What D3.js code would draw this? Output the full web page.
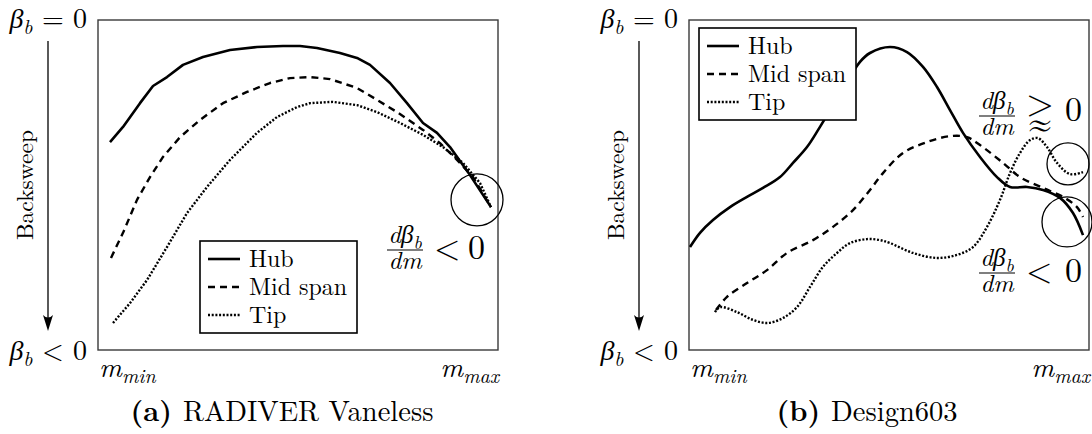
<!DOCTYPE html>
<html>
<head>
<meta charset="utf-8">
<script src="https://cdn.jsdelivr.net/npm/d3@7"></script>
<style>
  body { margin: 0; background: #fff; }
  svg { display: block; }
</style>
</head>
<body>
<svg id="chart" width="1092" height="434"></svg>
<script>
// Normalised meridional position m (0 = m_min, 100 = m_max) and blade angle
// beta_b (0 at the top, -100 = strongest backsweep at the bottom).
const hubA = [[3,-37],[6.25,-32.4],[10.5,-25.2],[13.75,-20],[17.25,-17.3],[21.25,-13.6],[26.25,-11.2],[33,-9.1],[39.75,-8.2],[46.25,-7.9],[50.5,-7.9],[54.75,-8.5],[60.5,-10],[64.75,-11.5],[68,-13.6],[73,-19.1],[77.25,-25.2],[81.25,-31.2],[84.75,-34.2],[88,-38.5],[93,-47],[98.25,-56.7]];
const midA = [[3.25,-72.1],[6.25,-64.5],[9.75,-54.5],[13,-47.6],[16.25,-41.5],[20.5,-35.5],[25.5,-30.3],[31.25,-25.2],[37.25,-21.8],[43,-19.1],[48,-17.6],[53,-17.3],[58,-17.9],[64.75,-20.6],[69.75,-24.2],[74.75,-27.9],[81.25,-33.3],[85.5,-37.3],[89.75,-42.4],[93.75,-47.6],[98.25,-56.7]];
const tipA = [[3.75,-91.8],[8,-85.8],[12.25,-78.8],[17.25,-68.8],[22.25,-58.5],[27.25,-50.6],[33,-42.4],[39.75,-34.2],[44.75,-29.4],[49.75,-26.4],[53,-25.2],[58.75,-24.8],[64.75,-25.8],[69.75,-27.9],[75.5,-31.2],[81.25,-34.8],[86.25,-38.5],[91.25,-43.3],[95.5,-49.4],[98.25,-56.7]];

const hubB = [[0.25,-68.8],[2.75,-64.5],[6,-60.6],[10.25,-56.7],[14.5,-53.6],[18.5,-50.9],[22.75,-47.6],[26,-43.3],[29.5,-38.5],[32.75,-32.4],[42.75,-12.7],[45.25,-10],[50.25,-8.2],[54.5,-9.7],[58.5,-14.2],[62,-20.3],[65.25,-27.3],[68.5,-34.2],[72.75,-41.5],[77,-47.6],[80.25,-50.6],[84.5,-50.6],[88.5,-51.5],[92.75,-53.9],[96,-58.5],[98.5,-65.2]];
const midB = [[6.75,-87.9],[9.5,-83.9],[14.5,-79.7],[19.5,-75.8],[24.5,-70.6],[31,-66.7],[36,-62.7],[41,-57.6],[45.25,-51.5],[48.5,-46.4],[53.5,-40.3],[59.5,-37],[65.25,-35.2],[69.5,-35.5],[72.75,-37.9],[78.5,-43.3],[82.75,-47.6],[88.5,-50.9],[93.5,-53.6],[97,-56.7],[98.5,-59.7]];
const tipB = [[6.5,-88.5],[7.75,-87],[12,-88.5],[16,-90.9],[19.75,-91.8],[23.5,-90.3],[27,-87],[30.25,-80.9],[33.5,-74.8],[37,-70.6],[40.25,-67.6],[44.5,-66.4],[47.75,-66.7],[50.25,-67.6],[56,-70.6],[62,-72.1],[67,-71.2],[71,-68.8],[74.5,-62.7],[77.75,-54.5],[80.25,-46.4],[82.75,-40.3],[85.25,-36.4],[87.25,-35.8],[89.5,-38.5],[92,-43.3],[95.25,-46.7],[98.5,-46.1]];

const seriesNames = ["Hub", "Mid span", "Tip"];
const captionTags = ["(a)", "(b)"];
const captionTitles = ["RADIVER Vaneless", "Design603"];

const FONT = '"Latin Modern Roman"';
const svg = d3.select("#chart");
const lineStyles = [
  { w: 2.6, dash: null },
  { w: 2.4, dash: "7,5" },
  { w: 2.4, dash: "2,1.7" }
];

function txt(g, x, y, size, family) {
  return g.append("text").attr("x", x).attr("y", y)
    .style("font-family", family || FONT).style("font-size", size + "px").attr("fill", "#000");
}

// Writes math-like text built from pieces: italic, subscript, plain.
function mathText(g, x, y, anchor, size, parts) {
  const t = txt(g, x, y, size).attr("text-anchor", anchor);
  let shift = 0;
  parts.forEach(p => {
    const s = p.sub ? Math.round(size * 0.22) : 0;
    const ts = t.append("tspan").text(p.t)
      .attr("dy", s - shift)
      .style("font-style", p.it ? "italic" : "normal")
      .style("font-weight", p.bold ? "bold" : "normal");
    if (p.sub) ts.style("font-size", Math.round(size * 0.7) + "px");
    shift = s;
  });
  return t;
}

// d(beta_b)/dm as a stacked fraction
function fraction(g, cx, barY, size) {
  mathText(g, cx, barY - 7, "middle", size,
    [{ t: "dβ", it: true }, { t: "b", it: true, sub: true }]);
  mathText(g, cx, barY + size * 0.74, "middle", size, [{ t: "dm", it: true }]);
  g.append("line").attr("x1", cx - 18).attr("x2", cx + 18)
    .attr("y1", barY).attr("y2", barY).attr("stroke", "#000").attr("stroke-width", 1.1);
}

const panels = [
  { left: 98, curves: [hubA, midA, tipA], smooth: false, legend: [200, 241], capX: 282 },
  { left: 689, curves: [hubB, midB, tipB], smooth: true, legend: [699, 28], capX: 867 }
];

panels.forEach((p, i) => {
  const x = d3.scaleLinear().domain([0, 100]).range([p.left, p.left + 400]);
  const y = d3.scaleLinear().domain([-100, 0]).range([350, 20]);
  const g = svg.append("g");

  // plot frame
  g.append("rect").attr("x", x(0)).attr("y", y(0))
    .attr("width", x(100) - x(0)).attr("height", y(-100) - y(0))
    .attr("fill", "none").attr("stroke", "#3a3a3a").attr("stroke-width", 1.4);

  const line = d3.line().x(d => x(d[0])).y(d => y(d[1]))
    .curve(p.smooth ? d3.curveCatmullRom.alpha(0.5) : d3.curveLinear);

  p.curves.forEach((c, k) => {
    g.append("path").attr("d", line(c)).attr("fill", "none")
      .attr("stroke", "#000").attr("stroke-width", lineStyles[k].w)
      .attr("stroke-dasharray", lineStyles[k].dash)
      .attr("stroke-linejoin", "round");
  });

  // vertical end labels
  mathText(g, x(0) - 11, y(0) + 8, "end", 28,
    [{ t: "β", it: true }, { t: "b", it: true, sub: true }, { t: " = 0" }]);
  mathText(g, x(0) - 11, y(-100) + 10, "end", 28,
    [{ t: "β", it: true }, { t: "b", it: true, sub: true }, { t: " < 0" }]);

  // backsweep arrow
  const ax = x(0) - 50;
  g.append("line").attr("x1", ax).attr("x2", ax).attr("y1", 41).attr("y2", 322)
    .attr("stroke", "#000").attr("stroke-width", 1.3);
  g.append("path")
    .attr("d", `M${ax},331 L${ax - 5},315 Q${ax},320 ${ax + 5},315 Z`)
    .attr("fill", "#000");
  txt(g, 0, 0, 23.5).attr("transform", `translate(${x(0) - 65},185) rotate(-90)`)
    .attr("text-anchor", "middle").text("Backsweep");

  // horizontal end labels
  mathText(g, x(0) + 1, 377, "start", 28,
    [{ t: "m", it: true }, { t: "min", it: true, sub: true }]);
  mathText(g, x(100) + 1, 377, "end", 28,
    [{ t: "m", it: true }, { t: "max", it: true, sub: true }]);

  // caption
  mathText(g, p.capX, 421, "middle", 28.5,
    [{ t: captionTags[i] + " ", bold: true }, { t: captionTitles[i] }]);

  // legend
  const [lx, ly] = p.legend;
  const lg = g.append("g");
  lg.append("rect").attr("x", lx).attr("y", ly).attr("width", 157).attr("height", 92)
    .attr("fill", "#fff").attr("stroke", "#000").attr("stroke-width", 1.6);
  seriesNames.forEach((name, k) => {
    const ry = ly + 18 + k * 28;
    lg.append("line").attr("x1", lx + 8).attr("x2", lx + 40)
      .attr("y1", ry).attr("y2", ry).attr("stroke", "#000")
      .attr("stroke-width", lineStyles[k].w).attr("stroke-dasharray", lineStyles[k].dash);
    txt(lg, lx + 49, ry + 8, 24).text(name);
  });

  if (i === 0) {
    g.append("circle").attr("cx", x(94.75)).attr("cy", y(-54.5)).attr("r", 26)
      .attr("fill", "none").attr("stroke", "#000").attr("stroke-width", 1.3);
    fraction(g, 405, 250, 25);
    txt(g, 434, 259, 34).text("<");
    txt(g, 468, 259, 34).text("0");
  } else {
    g.append("circle").attr("cx", x(94.75)).attr("cy", y(-43.6)).attr("r", 21)
      .attr("fill", "none").attr("stroke", "#000").attr("stroke-width", 1.3);
    g.append("circle").attr("cx", x(94.5)).attr("cy", y(-61.2)).attr("r", 25)
      .attr("fill", "none").attr("stroke", "#000").attr("stroke-width", 1.3);
    fraction(g, 997, 116, 25);
    // "greater than or approximately" drawn as a stacked > over ≈
    txt(g, 1026, 115, 36).text(">");
    txt(g, 1040, 137, 30, '"Noto Serif CJK SC"').attr("text-anchor", "middle").text("≈");
    txt(g, 1065, 121, 34).text("0");
    fraction(g, 997, 273, 25);
    txt(g, 1026, 282, 34).text("<");
    txt(g, 1065, 282, 34).text("0");
  }
});
</script>
</body>
</html>
